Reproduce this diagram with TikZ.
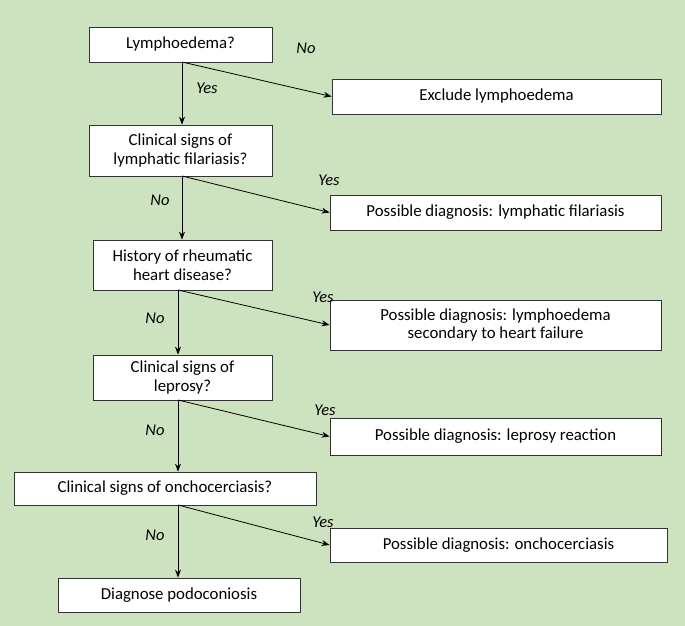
\documentclass[tikz,border=0pt]{standalone}
\usepackage{fontspec}
\setmainfont{Carlito}
\usetikzlibrary{arrows.meta}
\definecolor{bg}{HTML}{CDE3BF}
\begin{document}
\begin{tikzpicture}[x=1pt,y=-1pt,
 box/.style={draw=black!80,fill=white,line width=0.8pt,align=center,font=\fontsize{16.8}{18.5}\selectfont,inner sep=0pt},
 lab/.style={font=\fontsize{16.5}{18}\selectfont\itshape},
 arr/.style={-{Stealth[length=8pt,width=6pt]},line width=0.8pt}]
\fill[bg] (0,0) rectangle (685,626);
\useasboundingbox (0,0) rectangle (685,626);
\node[box,minimum width=183,minimum height=35] (q1) at (180.5,44.5) {Lymphoedema?};
\node[box,minimum width=329,minimum height=35] (r1) at (496.5,96.5) {Exclude lymphoedema};
\node[box,minimum width=183,minimum height=51] (q2) at (180.5,150.5) {Clinical signs of\\lymphatic filariasis?};
\node[box,minimum width=331,minimum height=35] (r2) at (495.5,212.5) {Possible diagnosis: lymphatic filariasis};
\node[box,minimum width=179,minimum height=50] (q3) at (182.5,265) {History of rheumatic\\heart disease?};
\node[box,minimum width=331,minimum height=50] (r3) at (495.5,325) {Possible diagnosis: lymphoedema\\secondary to heart failure};
\node[box,minimum width=179,minimum height=45] (q4) at (182.5,377.5) {Clinical signs of\\leprosy?};
\node[box,minimum width=331,minimum height=37] (r4) at (495.5,436.5) {Possible diagnosis: leprosy reaction};
\node[box,minimum width=302,minimum height=33] (q5) at (165,488.5) {Clinical signs of onchocerciasis?};
\node[box,minimum width=337,minimum height=34] (r5) at (498.5,545) {Possible diagnosis: onchocerciasis};
\node[box,minimum width=242,minimum height=34] (q6) at (179,595) {Diagnose podoconiosis};
\coordinate (s1) at (182,62); \coordinate (s2) at (182,176);
\coordinate (s3) at (178,290); \coordinate (s4) at (178,400);
\coordinate (s5) at (178,505);
\draw[arr] (s1) -- (s1 |- q2.north); \draw[arr] (s1) -- (r1.west);
\draw[arr] (s2) -- (s2 |- q3.north); \draw[arr] (s2) -- (r2.west);
\draw[arr] (s3) -- (s3 |- q4.north); \draw[arr] (s3) -- (r3.west);
\draw[arr] (s4) -- (s4 |- q5.north); \draw[arr] (s4) -- (r4.west);
\draw[arr] (s5) -- (s5 |- q6.north); \draw[arr] (s5) -- (r5.west);
\node[lab] (l1) at (306,48) {No}; \node[lab] (l2) at (207,88) {Yes};
\node[lab] (l3) at (329,180) {Yes}; \node[lab] (l4) at (160,200) {No};
\node[lab] (l5) at (323,297) {Yes}; \node[lab] (l6) at (155,318) {No};
\node[lab] (l7) at (325,410) {Yes}; \node[lab] (l8) at (155,430) {No};
\node[lab] (l9) at (323,522) {Yes}; \node[lab] (l10) at (155,535) {No};
\end{tikzpicture}
\end{document}
